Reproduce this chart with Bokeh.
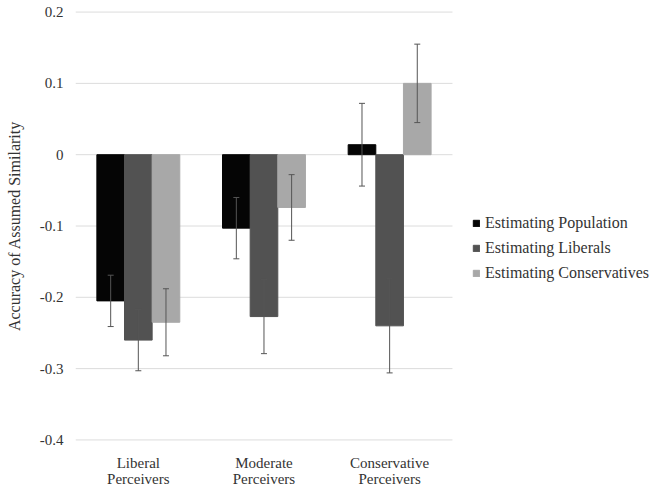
from bokeh.plotting import figure
from bokeh.models import (ColumnDataSource, Legend, LegendItem, Whisker, TeeHead,
                          FixedTicker, Range1d)
from bokeh.embed import file_html
from bokeh.resources import INLINE

# ---- data ----
groups = ["Liberal\nPerceivers", "Moderate\nPerceivers", "Conservative\nPerceivers"]
series = ["Estimating Population", "Estimating Liberals", "Estimating Conservatives"]
population = [-0.205, -0.103, 0.014]
population_err = [0.036, 0.043, 0.058]
liberals = [-0.260, -0.227, -0.240]
liberals_err = [0.043, 0.052, 0.066]
conservatives = [-0.235, -0.074, 0.100]
conservatives_err = [0.047, 0.046, 0.055]
y_ticks = [0.2, 0.1, 0, -0.1, -0.2, -0.3, -0.4]
y_tick_labels = ["0.2", "0.1", "0", "-0.1", "-0.2", "-0.3", "-0.4"]
colors = ["#050505", "#525252", "#a8a8a8"]

FONT = "Liberation Serif"
TXT = "#333333"

# plot area spans the whole width; the legend sits to the right of the bars
p = figure(width=653, height=491, x_range=Range1d(0.5, 5.1), y_range=Range1d(-0.405, 0.205),
           output_backend="svg", toolbar_location=None,
           min_border_left=75, min_border_right=0, min_border_top=8, min_border_bottom=48)
p.outline_line_color = None
p.background_fill_color = "white"

# horizontal gridlines only over the bar area
n = len(groups)
p.segment(x0=[0.5] * len(y_ticks), x1=[n + 0.5] * len(y_ticks), y0=y_ticks, y1=y_ticks,
          line_color="#dcdcdc", line_width=1)

bar_w = 0.22
offsets = [-bar_w, 0.0, bar_w]
vals = [population, liberals, conservatives]
errs = [population_err, liberals_err, conservatives_err]
centers = list(range(1, n + 1))

items = []
for k in range(3):
    xs = [c + offsets[k] for c in centers]
    src = ColumnDataSource(dict(x=xs, top=vals[k],
                                upper=[v + e for v, e in zip(vals[k], errs[k])],
                                lower=[v - e for v, e in zip(vals[k], errs[k])]))
    r = p.vbar(x="x", top="top", bottom=0, width=bar_w, source=src,
               fill_color=colors[k], line_color=colors[k])
    items.append(LegendItem(label=series[k], renderers=[r]))
    w = Whisker(base="x", upper="upper", lower="lower", source=src, level="overlay",
                line_color="#555555", line_width=1,
                upper_head=TeeHead(size=6, line_color="#555555", line_width=1),
                lower_head=TeeHead(size=6, line_color="#555555", line_width=1))
    p.add_layout(w)

# axes
p.xaxis.ticker = FixedTicker(ticks=centers)
p.xaxis.major_label_overrides = {c: g for c, g in zip(centers, groups)}
p.yaxis.ticker = FixedTicker(ticks=y_ticks)
p.yaxis.major_label_overrides = {t: l for t, l in zip(y_ticks, y_tick_labels)}
for ax in (p.xaxis, p.yaxis):
    ax.axis_line_color = None
    ax.major_tick_line_color = None
    ax.minor_tick_line_color = None
    ax.major_tick_out = 0
    ax.major_tick_in = 0
    ax.major_label_text_font = FONT
    ax.major_label_text_font_size = "15px"
    ax.major_label_text_color = TXT
p.xaxis.major_label_standoff = 11
p.xaxis.major_label_text_line_height = 1.0
p.yaxis.major_label_standoff = 12
p.yaxis.axis_label = "Accuracy of Assumed Similarity"
p.yaxis.axis_label_text_font = FONT
p.yaxis.axis_label_text_font_size = "16px"
p.yaxis.axis_label_text_font_style = "normal"
p.yaxis.axis_label_text_color = TXT
p.yaxis.axis_label_standoff = 14

p.xgrid.grid_line_color = None
p.ygrid.grid_line_color = None

legend = Legend(items=items, location=(397, 160), orientation="vertical",
                glyph_width=8, glyph_height=8, label_standoff=5,
                label_height=20, spacing=5, padding=0, margin=0,
                label_text_font=FONT, label_text_font_size="16px",
                label_text_color=TXT, border_line_color=None,
                background_fill_alpha=0)
p.add_layout(legend)

open("out.html", "w").write(file_html(p, INLINE))
